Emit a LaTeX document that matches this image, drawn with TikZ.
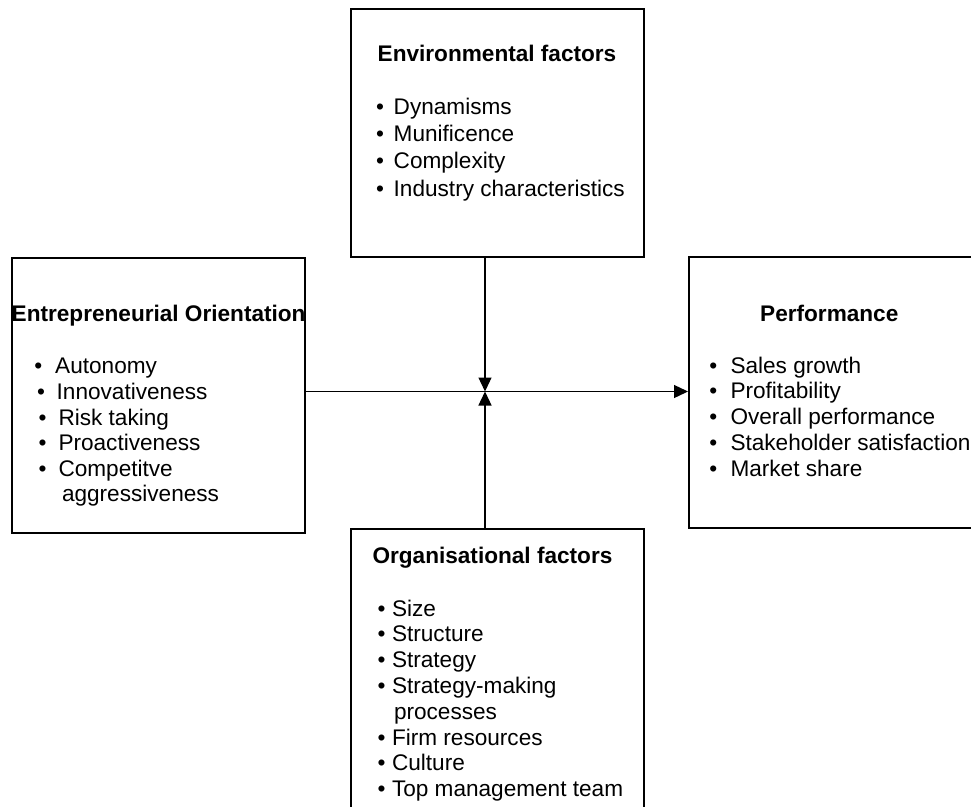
\documentclass[tikz,border=0pt]{standalone}
\usepackage{fontspec}
\setmainfont{Liberation Sans}
\usetikzlibrary{arrows.meta}

% one bulleted line: bullet node <name>-b at (bx,y), text node <name> at (tx,y)
\newcommand\bline[5]{%
  \node[bul] (#1-b) at (#2,#4) {\textbullet};
  \node[itm] (#1) at (#3,#4) {#5};
}

\tikzset{
  txt/.style={font=\fontsize{22.6}{27}\selectfont, inner sep=0pt},
  box/.style={draw, line width=1.5pt, inner sep=0pt, anchor=north west},
  ttl/.style={txt, font=\fontsize{22.6}{27}\selectfont\bfseries, anchor=base west},
  itm/.style={txt, anchor=base west},
  bul/.style={txt, anchor=base},
  conn/.style={line width=1.3pt},
  arr/.style={conn, -{Triangle[width=13pt,length=14pt]}},
}

\begin{document}
\begin{tikzpicture}[x=1pt, y=-1pt]
  \useasboundingbox (0,0) rectangle (971,806);

  % frames
  \node[box, minimum width=293pt, minimum height=248pt] (env)  at (350,8)   {};
  \node[box, minimum width=293pt, minimum height=275pt] (eo)   at (11,257)  {};
  \node[box, minimum width=293pt, minimum height=271pt] (perf) at (688,256) {};
  \node[box, minimum width=293pt, minimum height=300pt] (org)  at (350,528) {};

  % Environmental factors
  \node[ttl] (env-t) at (377.5,61.5) {Environmental factors};
  \bline{env-1}{380}{393.5}{114.7}{Dynamisms}
  \bline{env-2}{380}{393.5}{141.5}{Munificence}
  \bline{env-3}{380}{393.5}{168.7}{Complexity}
  \bline{env-4}{380}{393.5}{196}{Industry characteristics}

  % Entrepreneurial Orientation
  \node[ttl] (eo-t) at (11.5,321) {Entrepreneurial Orientation};
  \bline{eo-1}{38.3}{55}{373}{Autonomy}
  \bline{eo-2}{41}{56.5}{399}{Innovativeness}
  \bline{eo-3}{42.7}{58.3}{425}{Risk taking}
  \bline{eo-4}{42.7}{58.3}{450.8}{Proactiveness}
  \bline{eo-5}{42.7}{58.3}{476}{Competitve}
  \node[itm] (eo-5b) at (61.8,501) {aggressiveness};

  % Performance
  \node[ttl] (perf-t) at (760,321) {Performance};
  \bline{perf-1}{713.3}{730.3}{373}{Sales growth}
  \bline{perf-2}{713.3}{730.3}{398.5}{Profitability}
  \bline{perf-3}{713.3}{730.3}{424.5}{Overall performance}
  \bline{perf-4}{713.3}{730.3}{450.5}{Stakeholder satisfaction}
  \bline{perf-5}{713.3}{730.3}{476}{Market share}

  % Organisational factors
  \node[ttl] (org-t) at (372.3,563) {Organisational factors};
  \bline{org-1}{381.7}{391.8}{616}{Size}
  \bline{org-2}{381.7}{391.8}{641.8}{Structure}
  \bline{org-3}{381.7}{391.8}{667.6}{Strategy}
  \bline{org-4}{381.7}{391.8}{693.4}{Strategy-making}
  \node[itm] (org-4b) at (393.8,719.2) {processes};
  \bline{org-5}{381.7}{391.8}{745}{Firm resources}
  \bline{org-6}{381.7}{391.8}{770.8}{Culture}
  \bline{org-7}{381.7}{391.8}{796.6}{Top management team}

  % connectors meeting at the hub
  \coordinate (hub) at (485,391.5);
  \draw[arr] (eo.east |- hub) -- (perf.west |- hub);
  \draw[arr] (env.south -| hub) -- (hub);
  \draw[arr] (org.north -| hub) -- (hub);
\end{tikzpicture}
\end{document}
